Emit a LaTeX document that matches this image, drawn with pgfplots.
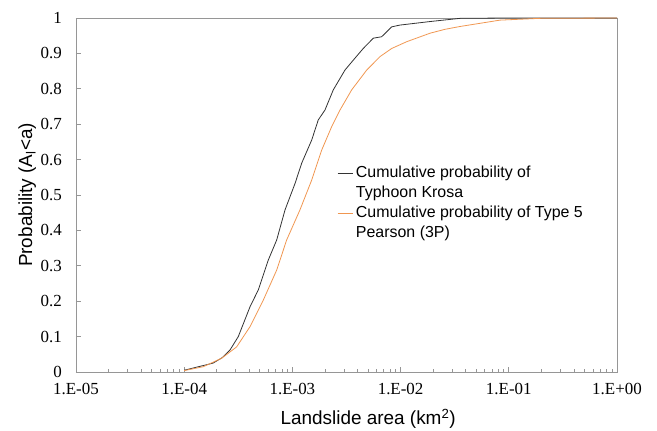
\documentclass[border=0pt]{standalone}
\usepackage{fontspec}
\setmainfont{Liberation Serif}
\newfontfamily\arial{Liberation Sans}
\usepackage{pgfplots}
\pgfplotsset{compat=1.18}
\usetikzlibrary{calc}
\definecolor{krosa}{RGB}{51,51,51}
\definecolor{pearson}{RGB}{240,150,80}
\definecolor{axgray}{RGB}{150,150,150}

\begin{document}
\begin{tikzpicture}
\begin{axis}[
  scale only axis,
  width=541bp, height=354bp,
  xmode=log,
  xmin=1e-5, xmax=1,
  ymin=0, ymax=1,
  xtick={1e-5,1e-4,1e-3,1e-2,1e-1,1},
  xticklabels={1.E-05,1.E-04,1.E-03,1.E-02,1.E-01,1.E+00},
  minor xtick={2e-5,3e-5,4e-5,5e-5,6e-5,7e-5,8e-5,9e-5,
    2e-4,3e-4,4e-4,5e-4,6e-4,7e-4,8e-4,9e-4,
    2e-3,3e-3,4e-3,5e-3,6e-3,7e-3,8e-3,9e-3,
    2e-2,3e-2,4e-2,5e-2,6e-2,7e-2,8e-2,9e-2,
    2e-1,3e-1,4e-1,5e-1,6e-1,7e-1,8e-1,9e-1},
  ytick={0,0.1,...,1.0},
  tick align=inside,
  xtick pos=left, ytick pos=left,
  major tick length=5bp, minor tick length=3.5bp,
  every tick/.style={axgray, line width=0.8bp},
  axis line style={axgray, line width=0.8bp},
  /pgf/number format/assume math mode=true,
  ticklabel style={font=\rmfamily\fontsize{17}{20}\selectfont},
  yticklabel style={inner xsep=0pt, xshift=-14bp},
  xticklabel style={inner ysep=0pt, yshift=-11bp},
  every axis x label/.style={at={(axis description cs:0.540,-0.1497)}, anchor=base},
  every axis y label/.style={at={(axis description cs:-0.0813,0.5)}, rotate=90, anchor=base},
  label style={font=\arial\fontsize{19}{22}\selectfont},
  xlabel={Landslide area (km\textsuperscript{2})},
  ylabel={Probability (A\textsubscript{l}<a)},
  legend image code/.code={\draw[#1] (0bp,0bp) -- (15bp,0bp);},
  legend cell align=left,
  legend style={draw=none, fill=none, inner sep=0pt,
    at={(axis description cs:0.4824,0.5847)}, anchor=north west,
    font=\arial\fontsize{16}{19}\selectfont,
    column sep=3bp, row sep=4bp,
    nodes={inner sep=0pt, text height=12bp, text depth=4bp}},
]
\addplot[krosa, line width=0.8bp] coordinates {
  (1.0e-4,0.005) (1.845e-4,0.025) (2.234e-4,0.040) (2.649e-4,0.062)
  (3.162e-4,0.100) (4.055e-4,0.184) (4.842e-4,0.232) (5.984e-4,0.316)
  (7.161e-4,0.373) (8.551e-4,0.458) (1.059e-3,0.533) (1.219e-3,0.590)
  (1.507e-3,0.655) (1.734e-3,0.712) (2.000e-3,0.740) (2.388e-3,0.797)
  (3.062e-3,0.853) (3.656e-3,0.881) (4.519e-3,0.914) (5.598e-3,0.943)
  (6.683e-3,0.947) (8.279e-3,0.975) (9.863e-3,0.980) (1.871e-2,0.990)
  (3.540e-2,0.999) (0.1,1.0) (1,1.0)
};
\addlegendentry{Cumulative probability of}
\addlegendimage{empty legend}
\addlegendentry{Typhoon Krosa}
\addplot[pearson, line width=0.8bp] coordinates {
  (1.0e-4,0.004) (1.503e-4,0.015) (2.223e-4,0.039) (3.055e-4,0.071)
  (4.055e-4,0.128) (5.383e-4,0.203) (7.161e-4,0.288) (8.851e-4,0.373)
  (1.175e-3,0.458) (1.507e-3,0.542) (1.866e-3,0.627) (2.307e-3,0.693)
  (2.754e-3,0.740) (3.532e-3,0.797) (4.864e-3,0.853) (6.457e-3,0.891)
  (8.279e-3,0.914) (1.138e-2,0.933) (1.871e-2,0.957) (2.570e-2,0.968)
  (3.540e-2,0.976) (8.299e-2,0.994) (1.941e-1,0.999) (1,1.0)
};
\addlegendentry{Cumulative probability of Type 5}
\addlegendimage{empty legend}
\addlegendentry{Pearson (3P)}
\end{axis}
\pgfresetboundingbox
\path ($(current axis.south west)+(-76bp,-59bp)$) rectangle ($(current axis.north east)+(40bp,18bp)$);
\end{tikzpicture}
\end{document}
